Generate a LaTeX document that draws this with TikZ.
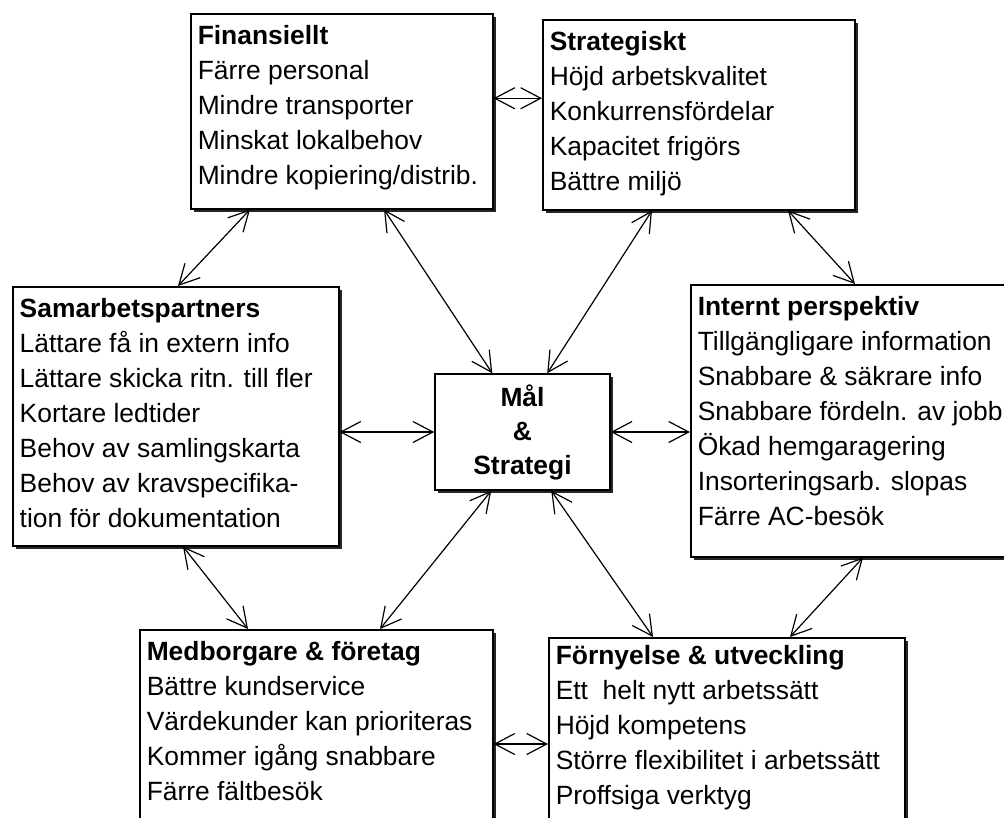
\documentclass[tikz,border=0pt]{standalone}
\usepackage{fontspec}
\setmainfont{Liberation Sans}
\usetikzlibrary{arrows.meta,shadows}

\tikzset{
  pbox/.style={draw, line width=1.5pt, fill=white, anchor=north west,
    inner xsep=7pt, inner ysep=6.5pt,
    font=\fontsize{26.4}{35}\selectfont,
    drop shadow={shadow xshift=3pt, shadow yshift=-3pt, fill=black!85, opacity=1}},
  link/.style={{Straight Barb[length=20pt,width=21pt]}-{Straight Barb[length=20pt,width=21pt]},
    line width=1.2pt}
}
\newcommand{\boxtext}[3]{\parbox[c][#2][t]{#1}{\strut#3}}

\begin{document}
\begin{tikzpicture}[x=1pt,y=-1pt]
\useasboundingbox (0,0) rectangle (1004,817);

\node[pbox] (fin) at (190,13) {\boxtext{288pt}{182pt}{\textbf{Finansiellt}\\
  Färre personal\\ Mindre transporter\\ Minskat lokalbehov\\ Mindre kopiering/distrib.}};
\node[pbox] (strat) at (542,19) {\boxtext{298pt}{177pt}{\textbf{Strategiskt}\\
  Höjd arbetskvalitet\\ Konkurrensfördelar\\ Kapacitet frigörs\\ Bättre miljö}};
\node[pbox] (samarb) at (12,286) {\boxtext{312pt}{246pt}{\textbf{Samarbetspartners}\\
  Lättare få in extern info\\ Lättare skicka ritn. till fler\\ Kortare ledtider\\
  Behov av samlingskarta\\ Behov av kravspecifika-\\ tion för dokumentation}};
\node[pbox, anchor=center, align=center, minimum width=175pt, minimum height=116pt,
  font=\fontsize{26.4}{34}\selectfont\bfseries] (mal) at (522.5,432) {Mål\\ \&\\ Strategi};
\node[pbox] (intern) at (690,284) {\boxtext{326pt}{259pt}{\textbf{Internt perspektiv}\\
  Tillgängligare information\\ Snabbare \& säkrare info\\ Snabbare fördeln. av jobb\\
  Ökad hemgaragering\\ Insorteringsarb. slopas\\ Färre AC-besök}};
\node[pbox] (medb) at (139,629) {\boxtext{339pt}{237pt}{\textbf{Medborgare \& företag}\\
  Bättre kundservice\\ Värdekunder kan prioriteras\\ Kommer igång snabbare\\ Färre fältbesök}};
\node[pbox, inner ysep=2pt] (forn) at (548,637) {\boxtext{342pt}{246pt}{\textbf{Förnyelse \& utveckling}\\
  Ett\ \ helt nytt arbetssätt\\ Höjd kompetens\\ Större flexibilitet i arbetssätt\\ Proffsiga verktyg}};

\draw[link] ([yshift=13pt]fin.east) -- ([yshift=13pt]fin.east -| strat.west);
\draw[link] ([xshift=60pt]fin.south west) -- ([xshift=166pt]samarb.north west);
\draw[link] ([xshift=194pt]fin.south west) -- ([xshift=58pt]mal.north west);
\draw[link] ([xshift=110pt]strat.south west) -- ([xshift=113pt]mal.north west);
\draw[link] ([xshift=246pt]strat.south west) -- ([xshift=165pt]intern.north west);
\draw[link] (mal.west -| samarb.east) -- (mal.west);
\draw[link] (mal.east) -- (mal.east -| intern.west);
\draw[link] ([xshift=171pt]samarb.south west) -- ([xshift=109pt]medb.north west);
\draw[link] ([xshift=57pt]mal.south west) -- ([xshift=241pt]medb.north west);
\draw[link] ([xshift=117pt]mal.south west) -- ([xshift=105pt]forn.north west);
\draw[link] ([xshift=173pt]intern.south west) -- ([xshift=242pt]forn.north west);
\draw[link] ([yshift=-115pt]medb.north east) -- ([yshift=-115pt]medb.north east -| forn.west);

\end{tikzpicture}
\end{document}
